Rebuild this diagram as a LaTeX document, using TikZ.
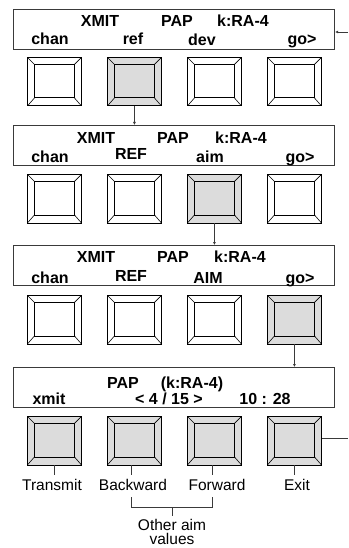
\documentclass[tikz,border=0pt]{standalone}
\usepackage{fontspec}
\setmainfont{Liberation Sans}
\usetikzlibrary{arrows.meta}
\definecolor{btngray}{HTML}{DCDCDC}
\definecolor{edge}{HTML}{3A3A3A}
\begin{document}
\begin{tikzpicture}[x=1pt,y=-1pt,
  panel/.style={draw=edge, line width=1.1pt, minimum width=321pt, minimum height=40pt, inner sep=0pt, anchor=north west},
  ptxt/.style={font=\fontsize{16}{18}\selectfont\bfseries, anchor=base, inner sep=0pt},
  lbl/.style={font=\fontsize{15.5}{17}\selectfont, anchor=base, inner sep=0pt},
  btn/.style={draw=black, line width=0.9pt, fill=white, minimum width=54pt, minimum height=48.5pt, inner sep=0pt, anchor=north west,
    path picture={
      \draw[line width=0.9pt] ([shift={(7pt,-7pt)}]path picture bounding box.north west) rectangle ([shift={(-7pt,8pt)}]path picture bounding box.south east);
      \draw[line width=0.6pt] (path picture bounding box.north west) -- ++(7pt,-7pt);
      \draw[line width=0.6pt] (path picture bounding box.north east) -- ++(-7pt,-7pt);
      \draw[line width=0.6pt] (path picture bounding box.south west) -- ++(7pt,8pt);
      \draw[line width=0.6pt] (path picture bounding box.south east) -- ++(-7pt,8pt);
    }},
  on/.style={fill=btngray},
  conn/.style={draw=edge, line width=0.8pt},
  arr/.style={-{Latex[length=3pt,width=3pt]}}
]
\useasboundingbox (0,0) rectangle (348,548);

% ---------- panel 1 ----------
\node[panel] (p1) at (13,9) {};
\node[ptxt] (t11) at (100,27) {XMIT};
\node[ptxt] (t12) at (177,27) {PAP};
\node[ptxt] (t13) at (243,27) {k:RA-4};
\node[ptxt] (t14) at (50,45) {chan};
\node[ptxt] (t15) at (133,45) {ref};
\node[ptxt] (t16) at (202,46) {dev};
\node[ptxt] (t17) at (302,45) {go>};
\node[btn] (b11) at (27,57) {};
\node[btn,on] (b12) at (107,57) {};
\node[btn] (b13) at (187,57) {};
\node[btn] (b14) at (267,57) {};

% ---------- panel 2 ----------
\node[panel] (p2) at (13,125) {};
\node[ptxt] (t21) at (96,144) {XMIT};
\node[ptxt] (t22) at (173,144) {PAP};
\node[ptxt] (t23) at (241,144) {k:RA-4};
\node[ptxt] (t24) at (50,162) {chan};
\node[ptxt] (t25) at (131,160) {REF};
\node[ptxt] (t26) at (210,162) {aim};
\node[ptxt] (t27) at (300,162) {go>};
\node[btn] (b21) at (27,174) {};
\node[btn] (b22) at (107,174) {};
\node[btn,on] (b23) at (187,174) {};
\node[btn] (b24) at (267,174) {};

% ---------- panel 3 ----------
\node[panel] (p3) at (13,245) {};
\node[ptxt] (t31) at (96,262) {XMIT};
\node[ptxt] (t32) at (173,262) {PAP};
\node[ptxt] (t33) at (240,262) {k:RA-4};
\node[ptxt] (t34) at (50,283) {chan};
\node[ptxt] (t35) at (131,281) {REF};
\node[ptxt] (t36) at (208,283) {AIM};
\node[ptxt] (t37) at (300,283) {go>};
\node[btn] (b31) at (27,295) {};
\node[btn] (b32) at (107,295) {};
\node[btn] (b33) at (187,295) {};
\node[btn,on] (b34) at (267,295) {};

% ---------- panel 4 ----------
\node[panel] (p4) at (13,367) {};
\node[ptxt] (t41) at (123,388) {PAP};
\node[ptxt] (t42) at (192,388) {(k:RA-4)};
\node[ptxt] (t43) at (49,404) {xmit};
\node[ptxt] (t44) at (169,404) {< 4 / 15 >};
\node[ptxt] (t45) at (265,404) {10 : 28};
\node[btn,on] (b41) at (27,416) {};
\node[btn,on] (b42) at (107,416) {};
\node[btn,on] (b43) at (187,416) {};
\node[btn,on] (b44) at (267,416) {};

% ---------- labels ----------
\node[lbl] (l1) at (52,490) {Transmit};
\node[lbl] (l2) at (133,490) {Backward};
\node[lbl] (l3) at (217,490) {Forward};
\node[lbl] (l4) at (297,490) {Exit};
\node[lbl] (lo1) at (172,530) {Other aim};
\node[lbl] (lo2) at (172,544.5) {values};

% ---------- connectors ----------
\draw[conn,arr] (b12.south) -- (b12.south |- p2.north);
\draw[conn,arr] (b23.south) -- (b23.south |- p3.north);
\draw[conn,arr] (b34.south) -- (b34.south |- p4.north);

\coordinate (rt) at (348,32);
\coordinate (re) at (348,438);
\draw[conn,arr] (rt) -- (rt -| p1.east);
\draw[conn] (re -| b44.east) -- (re);

\draw[conn,shorten >=4pt] (b41.south) -- (b41.south |- l1.north);
\draw[conn,shorten >=4pt] ([xshift=-3pt]b42.south) -- ([xshift=-3pt]b42.south |- l2.north);
\draw[conn,shorten >=4pt] ([xshift=-2pt]b43.south) -- ([xshift=-2pt]b43.south |- l3.north);
\draw[conn,shorten >=4pt] (b44.south) -- (b44.south |- l4.north);

\coordinate (bl) at (131,497);
\coordinate (br) at (212,497);
\coordinate (bm) at (172,507);
\draw[conn] (bl) -- ++(0,10) -| (br);
\draw[conn,shorten >=3pt] (bm) -- (bm |- lo1.north);
\end{tikzpicture}
\end{document}
